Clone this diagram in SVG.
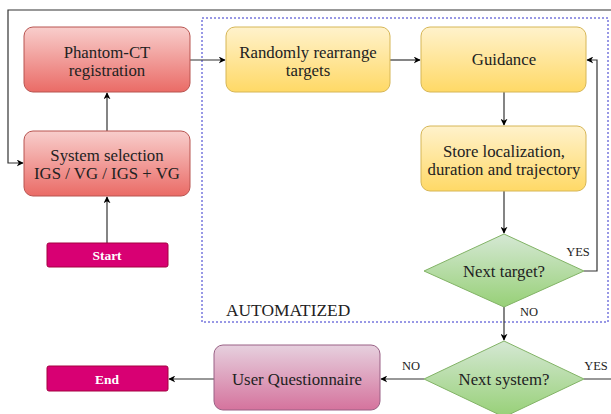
<svg xmlns="http://www.w3.org/2000/svg" width="611" height="414" viewBox="0 0 611 414">
<defs>
<linearGradient id="gRed" x1="0" y1="0" x2="0" y2="1"><stop offset="0" stop-color="#f8cecc"/><stop offset="1" stop-color="#ea6b66"/></linearGradient>
<linearGradient id="gYel" x1="0" y1="0" x2="0" y2="1"><stop offset="0" stop-color="#fff2cc"/><stop offset="1" stop-color="#ffd966"/></linearGradient>
<linearGradient id="gGrn" x1="0" y1="0" x2="0" y2="1"><stop offset="0" stop-color="#d5e8d4"/><stop offset="1" stop-color="#97d077"/></linearGradient>
<linearGradient id="gPnk" x1="0" y1="0" x2="0" y2="1"><stop offset="0" stop-color="#e6d0de"/><stop offset="1" stop-color="#d5739d"/></linearGradient>
<marker id="ah" viewBox="0 0 10 10" refX="9" refY="5" markerWidth="7" markerHeight="7" orient="auto" markerUnits="userSpaceOnUse"><path d="M0,0 L10,5 L0,10 L3,5 Z" fill="#000"/></marker>
</defs>
<style>
text{font-family:"Liberation Serif","Times New Roman",serif;font-size:16.8px;fill:#222;text-anchor:middle}
.lbl{font-size:12.5px}
.term{fill:#fff;font-size:13.5px;font-weight:bold}
.red{fill:url(#gRed);stroke:#b85450}
.yel{fill:url(#gYel);stroke:#d6b656}
.grn{fill:url(#gGrn);stroke:#82b366}
.pnk{fill:url(#gPnk);stroke:#996185}
.trm{fill:#d80073;stroke:#a50040}
.c{fill:none;stroke:#333;stroke-width:1.2}
</style>
<rect x="0" y="0" width="611" height="414" fill="#fff"/>
<g id="automatized">
<rect x="202" y="18" width="406" height="304" fill="none" stroke="#3333cc" stroke-width="1" stroke-dasharray="2,2"/>
<text x="226" y="316" style="font-size:17.4px;text-anchor:start">AUTOMATIZED</text>
</g>
<g id="connectors">
<path class="c" d="M584,379 H625 V10 H8 V163 H23" marker-end="url(#ah)"/>
<path class="c" d="M107,131 V93" marker-end="url(#ah)"/>
<path class="c" d="M107,243 V197" marker-end="url(#ah)"/>
<path class="c" d="M190,60 H225" marker-end="url(#ah)"/>
<path class="c" d="M390,60 H420" marker-end="url(#ah)"/>
<path class="c" d="M504,92 V125" marker-end="url(#ah)"/>
<path class="c" d="M504,191 V233" marker-end="url(#ah)"/>
<path class="c" d="M584,271 H597 V60 H587" marker-end="url(#ah)"/>
<path class="c" d="M504,307 V340" marker-end="url(#ah)"/>
<path class="c" d="M424,379 H381" marker-end="url(#ah)"/>
<path class="c" d="M214,379 H169" marker-end="url(#ah)"/>
<text class="lbl" x="578" y="256">YES</text>
<text class="lbl" x="529" y="316">NO</text>
<text class="lbl" x="596" y="370">YES</text>
<text class="lbl" x="411" y="370">NO</text>
</g>
<g id="phantom">
<rect class="red" x="24" y="27" width="166" height="65" rx="9"/>
<text x="107" y="58">Phantom-CT</text>
<text x="107" y="76">registration</text>
</g>
<g id="system">
<rect class="red" x="24" y="131" width="166" height="65" rx="9"/>
<text x="107" y="161">System selection</text>
<text x="107" y="179">IGS / VG / IGS + VG</text>
</g>
<g id="start">
<rect class="trm" x="47" y="243" width="121" height="24" rx="2"/>
<text class="term" x="107" y="260">Start</text>
</g>
<g id="end">
<rect class="trm" x="47" y="366" width="121" height="25" rx="2"/>
<text class="term" x="107" y="383.5">End</text>
</g>
<g id="randomly">
<rect class="yel" x="226" y="27" width="164" height="65" rx="9"/>
<text x="308" y="58">Randomly rearrange</text>
<text x="308" y="76">targets</text>
</g>
<g id="guidance">
<rect class="yel" x="421" y="27" width="165" height="65" rx="9"/>
<text x="504" y="65">Guidance</text>
</g>
<g id="store">
<rect class="yel" x="421" y="126" width="165" height="65" rx="9"/>
<text x="504" y="157">Store localization,</text>
<text x="504" y="175">duration and trajectory</text>
</g>
<g id="nexttarget">
<path class="grn" d="M504,234 L584,271 L504,307 L424,271 Z"/>
<text x="504" y="277">Next target?</text>
</g>
<g id="nextsystem">
<path class="grn" d="M504,341 L584,379 L504,417 L424,379 Z"/>
<text x="504" y="385">Next system?</text>
</g>
<g id="questionnaire">
<rect class="pnk" x="214" y="345" width="166" height="65" rx="9"/>
<text x="297" y="385">User Questionnaire</text>
</g>
</svg>
